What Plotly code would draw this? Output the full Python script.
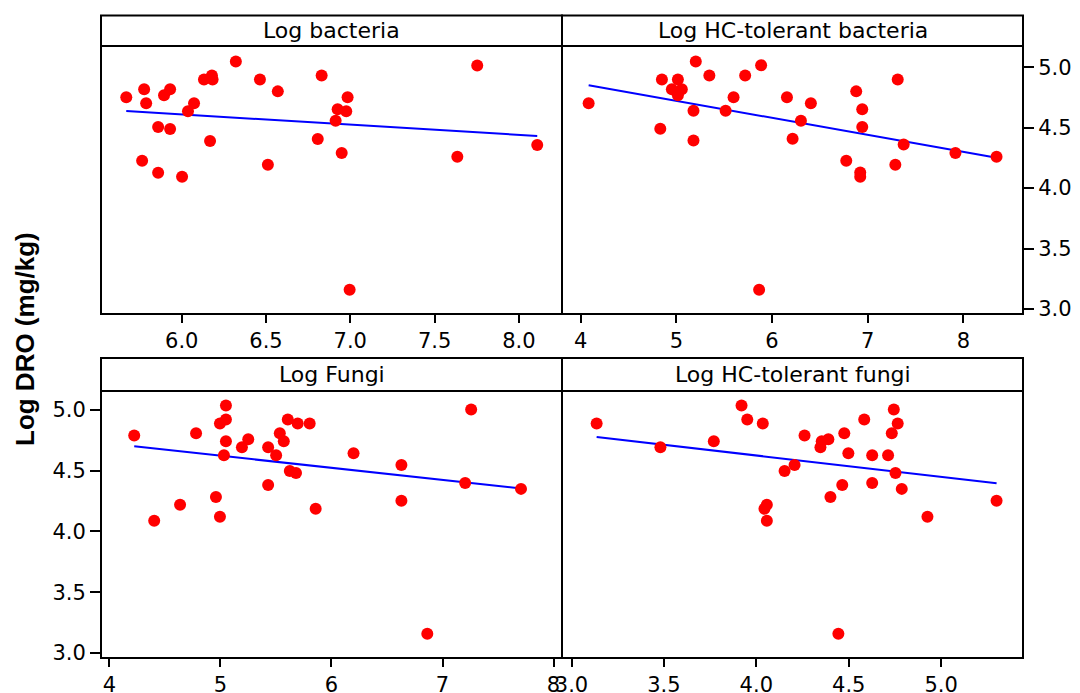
import numpy as np
import plotly.graph_objects as go

# Log DRO (mg/kg) against four microbial counts, one value per sample
bacteria_x = [5.671, 5.765, 5.777, 5.789, 5.860, 5.860, 5.895, 5.931, 5.931, 6.002, 6.037,
              6.073, 6.132, 6.179, 6.183, 6.168, 6.321, 6.464, 6.511, 6.570, 6.807, 6.830,
              6.913, 6.925, 6.949, 6.976, 6.984, 6.996, 7.635, 7.753, 8.109]
bacteria_y = [4.751, 4.226, 4.817, 4.702, 4.505, 4.127, 4.767, 4.817, 4.488, 4.094, 4.636,
              4.702, 4.899, 4.932, 4.899, 4.390, 5.047, 4.899, 4.193, 4.800, 4.406, 4.932,
              4.557, 4.653, 4.291, 4.636, 4.751, 3.159, 4.259, 5.014, 4.357]

hc_bacteria_x = [4.083, 4.832, 4.849, 4.953, 5.016, 5.016, 5.057, 5.179, 5.179, 5.203, 5.345,
                 5.515, 5.598, 5.719, 5.865, 5.886, 6.156, 6.215, 6.302, 6.406, 6.776, 6.880,
                 6.922, 6.922, 6.943, 6.943, 7.289, 7.314, 7.376, 7.917, 8.347]
hc_bacteria_y = [4.702, 4.491, 4.899, 4.817, 4.899, 4.767, 4.817, 4.639, 4.393, 5.047, 4.932,
                 4.639, 4.751, 4.932, 3.159, 5.016, 4.751, 4.409, 4.557, 4.702, 4.226, 4.800,
                 4.130, 4.094, 4.653, 4.505, 4.193, 4.899, 4.360, 4.291, 4.259]

fungi_x = [4.224, 4.404, 4.637, 4.781, 4.960, 4.996, 4.996, 5.050, 5.050, 5.050, 5.032,
           5.194, 5.251, 5.430, 5.430, 5.502, 5.535, 5.571, 5.607, 5.625, 5.681, 5.696,
           5.804, 5.858, 6.199, 6.630, 6.630, 6.863, 7.204, 7.258, 7.707]
fungi_y = [4.790, 4.088, 4.219, 4.807, 4.284, 4.121, 4.888, 5.035, 4.921, 4.741, 4.627,
           4.693, 4.758, 4.693, 4.382, 4.627, 4.807, 4.741, 4.921, 4.497, 4.480, 4.888,
           4.888, 4.186, 4.644, 4.546, 4.252, 3.158, 4.399, 5.003, 4.350]

hc_fungi_x = [3.136, 3.481, 3.770, 3.920, 3.951, 4.035, 4.044, 4.057, 4.057, 4.153, 4.207,
              4.261, 4.347, 4.354, 4.390, 4.401, 4.444, 4.465, 4.476, 4.498, 4.584, 4.627,
              4.627, 4.713, 4.733, 4.744, 4.753, 4.765, 4.787, 4.926, 5.300]
hc_fungi_y = [4.888, 4.693, 4.741, 5.035, 4.921, 4.888, 4.186, 4.219, 4.088, 4.497, 4.546,
              4.790, 4.693, 4.741, 4.758, 4.284, 3.158, 4.382, 4.807, 4.644, 4.921, 4.627,
              4.399, 4.627, 4.807, 5.003, 4.480, 4.888, 4.350, 4.121, 4.252]

panel_titles = ["Log bacteria", "Log HC-tolerant bacteria", "Log Fungi", "Log HC-tolerant fungi"]
x_tick_values = [
    [6.0, 6.5, 7.0, 7.5, 8.0],
    [4, 5, 6, 7, 8],
    [4, 5, 6, 7, 8],
    [3.0, 3.5, 4.0, 4.5, 5.0],
]
x_tick_labels = [
    ["6.0", "6.5", "7.0", "7.5", "8.0"],
    ["4", "5", "6", "7", "8"],
    ["4", "5", "6", "7", "8"],
    ["3.0", "3.5", "4.0", "4.5", "5.0"],
]
y_tick_values = [3.0, 3.5, 4.0, 4.5, 5.0]
y_tick_labels = ["3.0", "3.5", "4.0", "4.5", "5.0"]

panels = [
    (bacteria_x, bacteria_y),
    (hc_bacteria_x, hc_bacteria_y),
    (fungi_x, fungi_y),
    (hc_fungi_x, hc_fungi_y),
]

W, H = 1080, 693
FONT = "DejaVu Sans"
LW = 2


def px_x(p):
    return p / W


def px_y(p):
    return 1 - p / H


# plot-area pixel bounds; frame lines sit LW/2 outside, so neighbours share one line
col_px = [(102, 561), (563, 1022)]
row_px = [(47, 313), (392, 657)]
strip_px = [(15.5, 46), (358, 391)]
x_ranges = [[5.527, 8.25], [3.815, 8.613], [3.934, 8.067], [2.954, 5.4376]]
y_ranges = [[2.967, 5.167], [2.967, 5.147]]

fig = go.Figure()
layout = {}
shapes = []
annotations = []

for i, (xs, ys) in enumerate(panels):
    r, c = divmod(i, 2)
    n = "" if i == 0 else str(i + 1)
    xa, ya = "x" + n, "y" + n

    # least-squares fit line across the observed x range
    slope, intercept = np.polyfit(xs, ys, 1)
    fx = np.array([min(xs), max(xs)])
    fig.add_trace(go.Scatter(x=fx, y=intercept + slope * fx, mode="lines",
                             line=dict(color="#0000ff", width=2),
                             xaxis=xa, yaxis=ya, showlegend=False, hoverinfo="skip"))
    fig.add_trace(go.Scatter(x=xs, y=ys, mode="markers",
                             marker=dict(color="#ff0000", size=12, line=dict(width=0)),
                             xaxis=xa, yaxis=ya, showlegend=False))

    x0, x1 = col_px[c]
    yt, yb = row_px[r]
    layout["xaxis" + n] = dict(
        domain=[px_x(x0), px_x(x1)], range=x_ranges[i], anchor=ya,
        tickvals=x_tick_values[i], ticktext=x_tick_labels[i],
        ticks="outside", ticklen=8, tickwidth=1.5, tickcolor="black",
        showline=True, linecolor="black", linewidth=LW, mirror=True,
        showgrid=False, zeroline=False, automargin=False,
        tickfont=dict(family=FONT, size=21, color="black"),
    )
    show_y = (i == 1 or i == 2)
    layout["yaxis" + n] = dict(
        domain=[px_y(yb), px_y(yt)], range=y_ranges[r], anchor=xa,
        side="right" if i == 1 else "left",
        tickvals=y_tick_values if show_y else [],
        ticktext=y_tick_labels if show_y else [],
        ticks="outside" if show_y else "", ticklen=10, tickwidth=1.5, tickcolor="black",
        showticklabels=show_y,
        showline=True, linecolor="black", linewidth=LW, mirror=True,
        showgrid=False, zeroline=False, automargin=False,
        tickfont=dict(family=FONT, size=21, color="black"),
    )

    st, sb = strip_px[r]
    shapes.append(dict(type="rect", xref="paper", yref="paper",
                       x0=px_x(x0 - 1), x1=px_x(x1 + 1), y0=px_y(sb), y1=px_y(st),
                       line=dict(color="black", width=LW), fillcolor="white"))
    annotations.append(dict(text=panel_titles[i], xref="paper", yref="paper",
                            x=px_x((x0 + x1) / 2), y=px_y((st + sb) / 2),
                            xanchor="center", yanchor="middle", showarrow=False,
                            font=dict(family=FONT, size=22, color="black")))

annotations.append(dict(text="<b>Log DRO (mg/kg)</b>", xref="paper", yref="paper",
                        x=px_x(25), y=px_y(339), textangle=-90,
                        xanchor="center", yanchor="middle", showarrow=False,
                        font=dict(family="Liberation Sans", size=26, color="black")))

fig.update_layout(
    width=W, height=H,
    margin=dict(l=0, r=0, t=0, b=0, autoexpand=False),
    paper_bgcolor="white", plot_bgcolor="white",
    shapes=shapes, annotations=annotations,
    **layout,
)

fig.write_html("out.html")
